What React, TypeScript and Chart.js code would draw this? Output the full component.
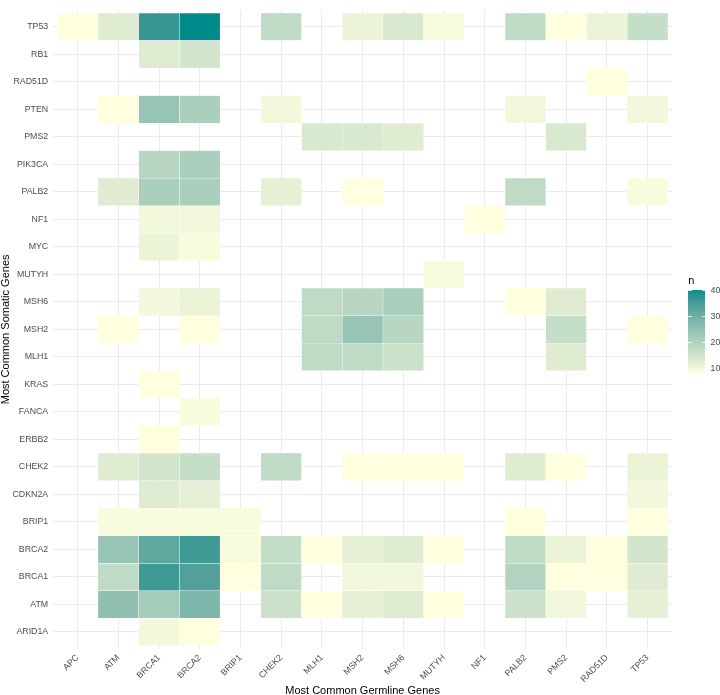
import React, { useEffect, useRef } from "react";
import { Chart, registerables } from "chart.js";
Chart.register(...registerables);

const germline = ["APC", "ATM", "BRCA1", "BRCA2", "BRIP1", "CHEK2", "MLH1", "MSH2", "MSH6", "MUTYH", "NF1", "PALB2", "PMS2", "RAD51D", "TP53"];
const somatic = ["ARID1A", "ATM", "BRCA1", "BRCA2", "BRIP1", "CDKN2A", "CHEK2", "ERBB2", "FANCA", "KRAS", "MLH1", "MSH2", "MSH6", "MUTYH", "MYC", "NF1", "PALB2", "PIK3CA", "PMS2", "PTEN", "RAD51D", "RB1", "TP53"];

// counts[row = somatic gene (bottom to top)][col = germline gene]; 0 = no tile
const rowARID1A = [0, 0, 10, 8, 0, 0, 0, 0, 0, 0, 0, 0, 0, 0, 0];
const rowATM = [0, 25, 22, 28, 0, 16, 8, 12, 13, 8, 0, 16, 10, 0, 12];
const rowBRCA1 = [0, 18, 36, 34, 8, 18, 0, 10, 10, 0, 0, 20, 8, 8, 13];
const rowBRCA2 = [0, 24, 32, 36, 9, 17, 8, 12, 13, 8, 0, 18, 11, 8, 15];
const rowBRIP1 = [0, 9, 9, 9, 9, 0, 0, 0, 0, 0, 0, 8, 0, 0, 8];
const rowCDKN2A = [0, 0, 13, 12, 0, 0, 0, 0, 0, 0, 0, 0, 0, 0, 10];
const rowCHEK2 = [0, 13, 15, 17, 0, 18, 0, 8, 8, 8, 0, 13, 8, 0, 11];
const rowERBB2 = [0, 0, 8, 0, 0, 0, 0, 0, 0, 0, 0, 0, 0, 0, 0];
const rowFANCA = [0, 0, 0, 9, 0, 0, 0, 0, 0, 0, 0, 0, 0, 0, 0];
const rowKRAS = [0, 0, 8, 0, 0, 0, 0, 0, 0, 0, 0, 0, 0, 0, 0];
const rowMLH1 = [0, 0, 0, 0, 0, 0, 18, 18, 16, 0, 0, 0, 13, 0, 0];
const rowMSH2 = [0, 8, 0, 8, 0, 0, 18, 24, 19, 0, 0, 0, 17, 0, 8];
const rowMSH6 = [0, 0, 10, 11, 0, 0, 18, 19, 21, 0, 0, 8, 13, 0, 0];
const rowMUTYH = [0, 0, 0, 0, 0, 0, 0, 0, 0, 9, 0, 0, 0, 0, 0];
const rowMYC = [0, 0, 11, 9, 0, 0, 0, 0, 0, 0, 0, 0, 0, 0, 0];
const rowNF1 = [0, 0, 10, 10, 0, 0, 0, 0, 0, 0, 8, 0, 0, 0, 0];
const rowPALB2 = [0, 13, 21, 21, 0, 12, 0, 8, 0, 0, 0, 18, 0, 0, 9];
const rowPIK3CA = [0, 0, 19, 21, 0, 0, 0, 0, 0, 0, 0, 0, 0, 0, 0];
const rowPMS2 = [0, 0, 0, 0, 0, 0, 14, 14, 13, 0, 0, 0, 14, 0, 0];
const rowPTEN = [0, 8, 24, 21, 0, 10, 0, 0, 0, 0, 0, 10, 0, 0, 10];
const rowRAD51D = [0, 0, 0, 0, 0, 0, 0, 0, 0, 0, 0, 0, 0, 8, 0];
const rowRB1 = [0, 0, 13, 15, 0, 0, 0, 0, 0, 0, 0, 0, 0, 0, 0];
const rowTP53 = [8, 13, 37, 40, 0, 18, 0, 11, 14, 9, 0, 18, 8, 11, 17];

const counts = [rowARID1A, rowATM, rowBRCA1, rowBRCA2, rowBRIP1, rowCDKN2A, rowCHEK2, rowERBB2, rowFANCA, rowKRAS, rowMLH1, rowMSH2, rowMSH6, rowMUTYH, rowMYC, rowNF1, rowPALB2, rowPIK3CA, rowPMS2, rowPTEN, rowRAD51D, rowRB1, rowTP53];

const legendBreaks = [10, 20, 30, 40];
const LOW_COLOR = "#FFFFE0";
const HIGH_COLOR = "#008B8B";
const FONT = "'Liberation Sans', Arial, Helvetica, sans-serif";

// ---- Lab colour interpolation (like ggplot's gradient) ----
function hexToRgb(h: string) {
  const v = parseInt(h.slice(1), 16);
  return [(v >> 16) & 255, (v >> 8) & 255, v & 255];
}
function toLin(c: number) {
  c /= 255;
  return c <= 0.04045 ? c / 12.92 : Math.pow((c + 0.055) / 1.055, 2.4);
}
function fromLin(c: number) {
  const v = c <= 0.0031308 ? 12.92 * c : 1.055 * Math.pow(c, 1 / 2.4) - 0.055;
  return Math.max(0, Math.min(255, Math.round(v * 255)));
}
const WX = 0.95047, WY = 1.0, WZ = 1.08883;
function rgbToLab(rgb: number[]) {
  const [r, g, b] = rgb.map(toLin);
  const x = (0.4124564 * r + 0.3575761 * g + 0.1804375 * b) / WX;
  const y = (0.2126729 * r + 0.7151522 * g + 0.072175 * b) / WY;
  const z = (0.0193339 * r + 0.119192 * g + 0.9503041 * b) / WZ;
  const f = (t: number) => (t > 216 / 24389 ? Math.cbrt(t) : (24389 / 27 * t + 16) / 116);
  const fx = f(x), fy = f(y), fz = f(z);
  return [116 * fy - 16, 500 * (fx - fy), 200 * (fy - fz)];
}
function labToRgb(lab: number[]) {
  const [L, a, b] = lab;
  const fy = (L + 16) / 116;
  const fx = fy + a / 500;
  const fz = fy - b / 200;
  const inv = (t: number) => (t * t * t > 216 / 24389 ? t * t * t : (116 * t - 16) / (24389 / 27));
  const x = inv(fx) * WX, y = inv(fy) * WY, z = inv(fz) * WZ;
  const r = 3.2404542 * x - 1.5371385 * y - 0.4985314 * z;
  const g = -0.969266 * x + 1.8760108 * y + 0.041556 * z;
  const bb = 0.0556434 * x - 0.2040259 * y + 1.0572252 * z;
  return [fromLin(r), fromLin(g), fromLin(bb)];
}
const LAB_LOW = rgbToLab(hexToRgb(LOW_COLOR));
const LAB_HIGH = rgbToLab(hexToRgb(HIGH_COLOR));
const allValues = counts.flat().filter((v) => v > 0);
const N_MIN = Math.min(...allValues);
const N_MAX = Math.max(...allValues);
function colorFor(n: number) {
  const t = Math.max(0, Math.min(1, (n - N_MIN) / (N_MAX - N_MIN)));
  const lab = LAB_LOW.map((v, i) => v + (LAB_HIGH[i] - v) * t);
  const [r, g, b] = labToRgb(lab);
  return `rgb(${r},${g},${b})`;
}

function Legend() {
  const barTop = 290.3;
  const barH = 83.4;
  const barLeft = 688.3;
  const barW = 17;
  const stops: string[] = [];
  for (let i = 0; i <= 20; i++) {
    const v = N_MAX - (N_MAX - N_MIN) * (i / 20);
    stops.push(`${colorFor(v)} ${(i / 20) * 100}%`);
  }
  const yFor = (v: number) => barTop + barH * (1 - (v - N_MIN) / (N_MAX - N_MIN));
  return (
    <>
      <div style={{ position: "absolute", left: barLeft, top: 275.4, fontFamily: FONT, fontSize: 11, lineHeight: 1, color: "#000" }}>n</div>
      <div style={{ position: "absolute", left: barLeft, top: barTop, width: barW, height: barH, background: `linear-gradient(to bottom, ${stops.join(", ")})` }} />
      {legendBreaks.map((b) => (
        <React.Fragment key={b}>
          <div style={{ position: "absolute", left: barLeft, top: yFor(b) - 0.5, width: 3.4, height: 1, background: "rgba(255,255,255,0.8)" }} />
          <div style={{ position: "absolute", left: barLeft + barW - 3.4, top: yFor(b) - 0.5, width: 3.4, height: 1, background: "rgba(255,255,255,0.8)" }} />
          <div style={{ position: "absolute", left: 710.5, top: yFor(b) - 4.3, fontFamily: FONT, fontSize: 8.8, lineHeight: 1, color: "#4D4D4D", whiteSpace: "nowrap" }}>{b}</div>
        </React.Fragment>
      ))}
    </>
  );
}

export default function App() {
  const ref = useRef<HTMLCanvasElement>(null);
  useEffect(() => {
    const canvas = ref.current;
    if (!canvas) return;
    const points: { x: number; y: [number, number] }[] = [];
    const colors: string[] = [];
    counts.forEach((row, r) =>
      row.forEach((n, c) => {
        if (n > 0) {
          points.push({ x: c + 1, y: [r + 0.5, r + 1.5] });
          colors.push(colorFor(n));
        }
      })
    );
    const chart = new Chart(canvas, {
      type: "bar",
      data: {
        datasets: [
          {
            data: points as any,
            backgroundColor: colors,
            borderColor: "rgba(255,255,255,0.55)",
            borderWidth: 0.5,
            borderSkipped: false,
            barPercentage: 1,
            categoryPercentage: 1,
            grouped: false,
          } as any,
        ],
      },
      options: {
        animation: false,
        responsive: false,
        events: [],
        layout: { padding: { left: 0, right: 48, top: 0.5, bottom: 0 } },
        plugins: { legend: { display: false }, tooltip: { enabled: false } },
        scales: {
          x: {
            type: "linear",
            min: 0.4,
            max: germline.length + 0.6,
            offset: false,
            afterBuildTicks: (s: any) => {
              s.ticks = germline.map((_, i) => ({ value: i + 1 }));
            },
            afterFit: (s: any) => {
              s.height = 46.5;
            },
            grid: { color: "#EBEBEB", lineWidth: 1, drawTicks: false, offset: false },
            border: { display: false },
            ticks: {
              autoSkip: false,
              maxRotation: 45,
              minRotation: 45,
              padding: 4,
              color: "#4D4D4D",
              font: { family: FONT, size: 8.8 },
              callback: (v: any) => germline[Math.round(v) - 1] ?? "",
            },
            title: {
              display: true,
              text: "Most Common Germline Genes",
              color: "#000",
              font: { family: FONT, size: 11 },
              padding: { top: 0, bottom: -2.6 },
            },
          },
          y: {
            type: "linear",
            min: 0.4,
            max: somatic.length + 0.6,
            afterBuildTicks: (s: any) => {
              s.ticks = somatic.map((_, i) => ({ value: i + 1 }));
            },
            afterFit: (s: any) => {
              s.width = 53.2;
            },
            grid: { color: "#EBEBEB", lineWidth: 1, drawTicks: false },
            border: { display: false },
            ticks: {
              autoSkip: false,
              padding: 5,
              color: "#4D4D4D",
              font: { family: FONT, size: 8.8 },
              callback: (v: any) => somatic[Math.round(v) - 1] ?? "",
            },
            title: {
              display: true,
              text: "Most Common Somatic Genes",
              color: "#000",
              font: { family: FONT, size: 11 },
              padding: { top: -0.8, bottom: 0 },
            },
          },
        },
      } as any,
    });
    return () => chart.destroy();
  }, []);
  return (
    <div style={{ position: "fixed", left: 0, top: 0, width: 720, height: 695, background: "#fff", overflow: "hidden" }}>
      <canvas ref={ref} width={720} height={695} style={{ display: "block", width: 720, height: 695 }} />
      <Legend />
    </div>
  );
}
